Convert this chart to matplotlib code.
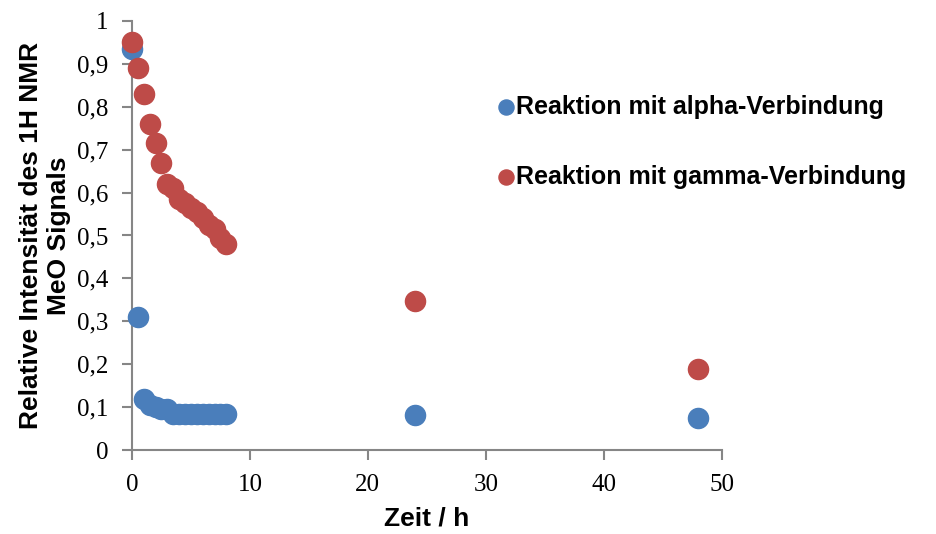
import numpy as np
import matplotlib.pyplot as plt

# Zeitpunkte (h) und relative Intensitaet
zeit = [0, 0.5, 1, 1.5, 2, 2.5, 3, 3.5, 4, 4.5, 5, 5.5, 6, 6.5, 7, 7.5, 8, 24, 48]
alpha = [0.935, 0.31, 0.12, 0.105, 0.1, 0.095, 0.095, 0.085, 0.085, 0.085,
         0.085, 0.085, 0.085, 0.085, 0.085, 0.085, 0.085, 0.082, 0.075]
gamma = [0.95, 0.89, 0.83, 0.76, 0.715, 0.67, 0.62, 0.61, 0.585, 0.575,
         0.565, 0.555, 0.54, 0.525, 0.515, 0.495, 0.48, 0.347, 0.19]
y_ticks = [0, 0.1, 0.2, 0.3, 0.4, 0.5, 0.6, 0.7, 0.8, 0.9, 1]
y_labels = ['0', '0,1', '0,2', '0,3', '0,4', '0,5', '0,6', '0,7', '0,8', '0,9', '1']

blau = '#4a7ebb'
rot = '#be4b48'
grau = '#868686'

fig = plt.figure(figsize=(9.36, 5.34), dpi=100)
ax = fig.add_axes([0.141, 0.157, 0.63, 0.804])

ax.scatter(zeit, alpha, s=210, color=blau, label='Reaktion mit alpha-Verbindung', zorder=3, clip_on=False)
ax.scatter(zeit, gamma, s=210, color=rot, label='Reaktion mit gamma-Verbindung', zorder=3, clip_on=False)

ax.set_xlim(0, 50)
ax.set_ylim(0, 1)
ax.set_xticks([0, 10, 20, 30, 40, 50])
ax.set_yticks(y_ticks)
ax.set_yticklabels(y_labels)

for s in ['top', 'right']:
    ax.spines[s].set_visible(False)
for s in ['left', 'bottom']:
    ax.spines[s].set_color(grau)
    ax.spines[s].set_linewidth(1.5)
ax.tick_params(axis='both', direction='out', length=7, width=1.5, color=grau,
               labelsize=18, pad=10)
for lab in ax.get_xticklabels() + ax.get_yticklabels():
    lab.set_fontfamily('Liberation Serif')

ax.set_xlabel('Zeit / h', fontsize=19, fontweight='bold', family='Liberation Sans', labelpad=8)
ax.set_ylabel('Relative Intensität des 1H NMR\nMeO Signals', fontsize=19, fontweight='bold',
              family='Liberation Sans', labelpad=4, linespacing=1.25)

leg = fig.legend(loc='upper left', bbox_to_anchor=(0.53, 0.823), frameon=False,
                 prop={'family': 'Liberation Sans', 'weight': 'bold', 'size': 18},
                 markerscale=0.75, handletextpad=0.0, labelspacing=1.85, handlelength=0.8,
                 borderpad=0, borderaxespad=0)

fig.savefig('out.png', dpi=100)
